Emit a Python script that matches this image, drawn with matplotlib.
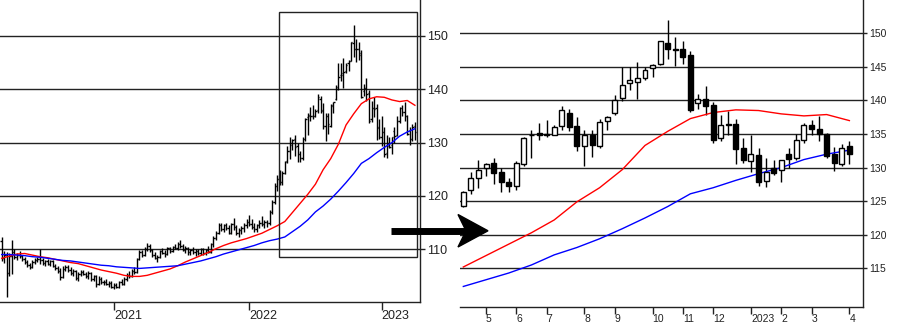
import numpy as np
import pandas as pd
import matplotlib
matplotlib.use('Agg')
import matplotlib.pyplot as plt
from matplotlib.patches import Rectangle, Polygon
from matplotlib.lines import Line2D

plt.rcParams['font.family'] = ['Liberation Sans', 'DejaVu Sans']

# weekly bars (week ending Friday)
week_end = pd.date_range('2020-02-21', '2023-03-31', freq='W-FRI')

open_ = [
    111.5, 108.3, 109.0, 105.5, 108.8, 109.5, 108.6, 108.9, 108.7, 108.1,
    107.6, 107.0, 106.7, 107.6, 108.0, 108.2, 108.0, 107.5, 107.7, 107.3,
    107.8, 106.9, 106.4, 105.9, 104.8, 106.3, 106.7, 106.1, 105.5, 105.9,
    104.6, 105.4, 105.8, 105.4, 104.9, 105.6, 104.4, 104.9, 103.5, 104.5,
    103.8, 103.9, 103.5, 103.6, 103.0, 103.3, 102.9, 103.8, 103.5, 104.4,
    105.2, 105.0, 106.0, 105.7, 108.1, 109.4, 109.0, 110.1, 110.6, 109.8,
    108.9, 108.4, 108.5, 109.6, 109.3, 109.1, 110.2, 109.6, 110.4, 110.3,
    111.0, 110.6, 109.9, 110.2, 109.4, 109.8, 109.4, 109.7, 109.3, 110.0,
    109.2, 109.8, 109.5, 110.9, 112.1, 113.0, 114.6, 113.8, 114.5, 114.0,
    113.1, 114.7, 114.2, 113.0, 113.6, 114.0, 114.6, 115.2, 114.8, 114.1,
    113.7, 114.5, 115.0, 114.7, 115.1, 114.9, 117.0, 118.9, 121.8, 123.2,
    122.6,
    124.3, 126.6, 128.4, 130.0, 130.7, 129.4, 127.9, 127.2, 130.6, 134.8,
    135.2, 134.9, 134.9, 136.2, 138.2, 136.2, 133.2, 134.9, 133.2, 137.0,
    138.1, 140.4, 142.6, 142.7, 143.4, 144.9, 145.4, 148.6, 147.6, 147.6,
    146.8, 139.6, 140.2, 139.3, 134.4, 136.5, 136.5, 132.9, 131.0, 131.9,
    128.0, 129.9, 129.6, 132.1, 131.4, 134.1, 136.4, 135.8, 135.0, 132.1,
    130.6, 133.2,
]
high = [
    112.2, 109.6, 109.4, 109.2, 111.7, 110.0, 109.3, 109.6, 109.0, 108.6,
    108.0, 107.5, 107.9, 108.3, 108.6, 110.0, 108.3, 108.0, 108.2, 108.0,
    108.0, 107.2, 106.8, 106.5, 106.8, 107.0, 107.1, 106.6, 106.2, 106.1,
    105.8, 106.1, 106.1, 105.7, 105.9, 105.7, 105.2, 105.1, 104.9, 104.8,
    104.3, 104.4, 104.1, 104.0, 103.7, 103.6, 104.1, 104.4, 104.8, 105.5,
    106.0, 106.2, 106.6, 108.4, 109.9, 109.8, 110.4, 111.2, 110.9, 110.1,
    109.5, 108.9, 109.9, 110.3, 109.8, 110.5, 110.4, 110.6, 111.0, 111.4,
    111.8, 111.0, 110.6, 110.4, 110.1, 110.5, 110.0, 110.1, 110.3, 110.2,
    110.0, 110.6, 111.2, 112.4, 113.4, 115.0, 114.9, 114.8, 114.9, 114.6,
    115.0, 115.8, 114.5, 113.9, 114.4, 114.9, 115.6, 116.4, 115.6, 114.9,
    114.8, 115.4, 116.3, 115.5, 115.4, 117.4, 119.3, 122.4, 124.0, 124.9,
    124.6,
    126.5, 129.4, 131.1, 130.7, 131.5, 129.9, 128.4, 131.0, 134.6, 135.6,
    136.7, 137.1, 136.3, 139.1, 138.7, 137.5, 135.6, 135.6, 137.2, 137.7,
    140.8, 145.0, 145.0, 145.8, 145.0, 145.5, 148.9, 152.0, 149.4, 148.9,
    147.3, 141.0, 142.2, 139.8, 137.8, 138.5, 137.2, 134.4, 134.9, 132.9,
    131.5, 131.1, 131.1, 132.9, 135.0, 136.6, 137.1, 137.7, 135.2, 133.0,
    133.5, 133.9,
]
low = [
    107.8, 107.5, 101.0, 105.0, 105.3, 108.2, 108.0, 108.4, 107.8, 107.3,
    106.7, 106.2, 106.5, 107.2, 107.6, 107.3, 107.1, 106.8, 107.0, 106.9,
    106.6, 106.1, 105.6, 104.2, 104.6, 105.9, 105.8, 105.2, 105.0, 104.3,
    104.0, 105.0, 105.2, 104.6, 104.4, 104.1, 104.0, 103.0, 103.3, 103.5,
    103.2, 103.3, 102.9, 102.8, 102.6, 102.7, 102.8, 103.2, 103.3, 104.0,
    104.6, 104.8, 105.4, 105.6, 107.9, 108.6, 108.8, 109.7, 109.5, 108.6,
    108.1, 107.6, 108.3, 109.1, 108.5, 108.9, 109.2, 109.4, 110.0, 109.9,
    110.3, 109.6, 109.3, 109.0, 109.0, 109.1, 108.8, 109.0, 109.0, 108.9,
    108.9, 109.2, 109.3, 110.5, 111.7, 112.8, 113.4, 113.2, 113.6, 112.8,
    112.9, 113.6, 112.7, 112.2, 112.9, 113.3, 114.0, 114.4, 113.8, 113.3,
    113.2, 114.0, 114.3, 113.9, 114.2, 114.5, 116.6, 118.5, 120.9, 122.0,
    122.1,
    124.2, 126.1, 126.9, 128.7, 127.5, 126.3, 126.3, 126.7, 130.3, 131.5,
    134.1, 134.5, 134.8, 135.6, 135.5, 132.5, 130.3, 131.6, 132.9, 135.6,
    137.9, 139.9, 141.6, 140.2, 143.1, 143.5, 145.3, 146.1, 145.1, 145.5,
    138.3, 138.7, 137.8, 133.6, 133.9, 134.8, 130.5, 130.7, 129.4, 127.3,
    127.1, 128.9, 127.9, 129.9, 131.2, 133.7, 134.9, 134.0, 131.5, 129.5,
    130.3, 130.5,
]
close = [
    108.3, 109.0, 105.5, 108.8, 109.5, 108.6, 108.9, 108.7, 108.1, 107.6,
    107.0, 106.7, 107.6, 108.0, 108.2, 108.0, 107.5, 107.7, 107.3, 107.8,
    106.9, 106.4, 105.9, 104.8, 106.3, 106.7, 106.1, 105.5, 105.9, 104.6,
    105.4, 105.8, 105.4, 104.9, 105.6, 104.4, 104.9, 103.5, 104.5, 103.8,
    103.9, 103.5, 103.6, 103.0, 103.3, 102.9, 103.8, 103.5, 104.4, 105.2,
    105.0, 106.0, 105.7, 108.1, 109.4, 109.0, 110.1, 110.6, 109.8, 108.9,
    108.4, 108.5, 109.6, 109.3, 109.1, 110.2, 109.6, 110.4, 110.3, 111.0,
    110.6, 109.9, 110.2, 109.4, 109.8, 109.4, 109.7, 109.3, 110.0, 109.2,
    109.8, 109.5, 110.9, 112.1, 113.0, 114.6, 113.8, 114.5, 114.0, 113.1,
    114.7, 114.2, 113.0, 113.6, 114.0, 114.6, 115.2, 114.8, 114.1, 113.7,
    114.5, 115.0, 114.7, 115.1, 114.9, 117.0, 118.9, 121.8, 123.2, 122.6,
    124.3,
    126.4, 128.4, 129.6, 130.5, 129.2, 127.9, 127.2, 130.7, 134.4, 134.9,
    134.9, 135.0, 136.0, 138.6, 136.0, 133.2, 134.9, 133.4, 136.8, 137.6,
    140.1, 142.3, 143.0, 143.3, 144.6, 145.3, 148.8, 147.6, 147.5, 146.5,
    138.6, 140.2, 139.2, 134.1, 136.4, 136.3, 132.7, 131.1, 132.0, 127.8,
    129.4, 129.2, 131.1, 131.3, 134.1, 136.4, 135.8, 135.0, 131.7, 130.7,
    132.9, 132.0,
]

# moving averages (26 and 52 weeks), read every third week
ma26 = [
    108.3, 108.7, 109.1, 109.2, 108.9, 108.6, 108.4, 108.1, 107.8, 107.5,
    107.3, 106.9, 106.5, 106.1, 105.8, 105.5, 105.1, 104.9, 104.9, 105.1,
    105.5, 105.9, 106.3, 106.9, 107.6, 108.2, 108.8, 109.4, 110.1, 110.7,
    111.2, 111.6, 112.0, 112.5, 113.0, 113.7, 114.4, 115.2, 116.9, 118.6,
    120.3, 122.2, 124.9, 127.0, 129.7, 133.3, 135.4, 137.3, 138.2, 138.6,
    138.5, 138.0, 137.7, 137.9, 137.0,
]
ma52 = [
    109.0, 109.0, 108.9, 108.8, 108.6, 108.5, 108.3, 108.1, 107.9, 107.8,
    107.6, 107.4, 107.2, 107.0, 106.9, 106.7, 106.6, 106.5, 106.4, 106.5,
    106.6, 106.7, 106.8, 106.9, 107.2, 107.5, 107.8, 108.2, 108.6, 109.1,
    109.5, 109.9, 110.3, 110.7, 111.2, 111.6, 111.9, 112.3, 113.3, 114.3,
    115.5, 117.0, 118.1, 119.4, 120.9, 122.5, 124.2, 126.1, 127.0, 128.1,
    129.1, 130.0, 131.2, 132.0, 132.6,
]

zoom_start = '2022-04-08'
left_yticks = [110, 120, 130, 140, 150]
right_yticks = [115, 120, 125, 130, 135, 140, 145, 150]

o = np.array(open_)
h = np.array(high)
l = np.array(low)
c = np.array(close)
x = np.arange(len(week_end))
ma_x = x[::3]

W, H = 900, 327
INK = '#222222'


def fig_rect(x0, y0, x1, y1):
    # pixel box with y measured from the top
    return [x0 / W, 1 - y1 / H, (x1 - x0) / W, (y1 - y0) / H]


def style(ax, yticks, ysize, ylen, xlen):
    for s in ('left', 'top'):
        ax.spines[s].set_visible(False)
    for s in ('right', 'bottom'):
        ax.spines[s].set_color(INK)
        ax.spines[s].set_linewidth(1.0)
    ax.set_facecolor('none')
    ax.yaxis.tick_right()
    ax.set_yticks(yticks)
    ax.tick_params(axis='y', direction='out', length=ylen, width=1, pad=1.5,
                   labelsize=ysize, colors=INK)
    ax.tick_params(axis='x', direction='out', length=xlen, width=1, pad=0,
                   labelsize=ysize, colors=INK)
    ax.grid(axis='y', color=INK, lw=1.0)
    ax.set_axisbelow(True)


def boundary_ticks(dates, yearly):
    nxt = dates + pd.Timedelta(days=7)
    if yearly:
        idx = np.where(nxt.year != dates.year)[0]
        labels = [str(nxt[i].year) for i in idx]
    else:
        idx = np.where(nxt.month != dates.month)[0]
        labels = [str(nxt[i].year) if nxt[i].month == 1 else str(nxt[i].month)
                  for i in idx]
    return idx, labels


fig = plt.figure(figsize=(9, 3.27), dpi=100)

# ---- left panel: OHLC bars over the whole period
ax1 = fig.add_axes(fig_rect(0, 0, 420, 302))
style(ax1, left_yticks, 9, 3.6, 5.8)
ax1.vlines(x, l, h, color='black', lw=1)
ax1.hlines(o, x - 0.5, x, color='black', lw=1)
ax1.hlines(c, x, x + 0.5, color='black', lw=1)
ax1.plot(ma_x, ma26, color='#ff0000', lw=1)
ax1.plot(ma_x, ma52, color='#0000ff', lw=1)
ax1.add_patch(Rectangle((108.7, 108.5), 162.9 - 108.7, 154.5 - 108.5,
                        fill=False, ec=INK, lw=1.0, zorder=4))
ax1.set_xlim(-0.67, 164.0)
ax1.set_ylim(100.1, 156.75)
ti, tl = boundary_ticks(week_end, yearly=True)
ax1.set_xticks(ti, tl)
for lab in ax1.get_xticklabels():
    lab.set_ha('left')

# ---- right panel: candles for the zoomed year
first = week_end.get_loc(pd.Timestamp(zoom_start))
zd = week_end[first:]
j = np.arange(len(zd))
zo, zh, zl, zc = o[first:], h[first:], l[first:], c[first:]
up = zc >= zo

ax2 = fig.add_axes(fig_rect(460, 0, 862.7, 307))
style(ax2, right_yticks, 7.5, 2.9, 5.0)
ax2.vlines(j, zl, zh, color='black', lw=1, zorder=2)
body = np.maximum(np.abs(zc - zo), 0.08)
ax2.bar(j, body, bottom=np.minimum(zo, zc), width=0.66,
        color=np.where(up, 'white', 'black'), edgecolor='black', lw=1, zorder=3)
sel = ma_x >= first
ax2.plot(ma_x[sel] - first, np.array(ma26)[sel], color='#ff0000', lw=1, zorder=2)
ax2.plot(ma_x[sel] - first, np.array(ma52)[sel], color='#0000ff', lw=1, zorder=2)
ax2.set_xlim(-0.44, 52.76)
ax2.set_ylim(109.24, 154.96)
ti, tl = boundary_ticks(zd, yearly=False)
ax2.set_xticks(ti, tl)
for lab in ax2.get_xticklabels():
    lab.set_ha('left')

# ---- arrow between the panels
ay = 1 - 230.8 / H
fig.add_artist(Line2D([390.7 / W, 467 / W], [ay, ay], color='black', lw=5,
                      transform=fig.transFigure, solid_capstyle='butt'))
head = [(488, 230.8), (458, 214.5), (466, 230.8), (458, 247)]
fig.add_artist(Polygon([(px / W, 1 - py / H) for px, py in head], closed=True,
                       color='black', transform=fig.transFigure))

fig.savefig('out.png', dpi=100)
